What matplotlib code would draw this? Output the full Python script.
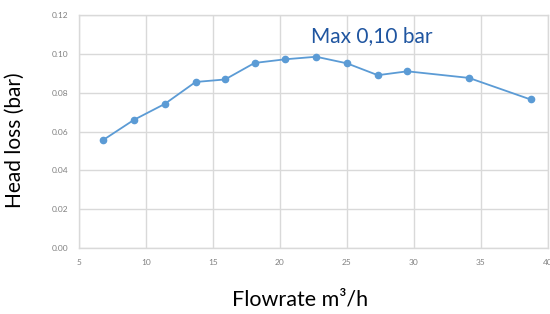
import matplotlib
matplotlib.use("Agg")
import matplotlib.pyplot as plt
from matplotlib.ticker import FormatStrFormatter, MultipleLocator

flowrate = [6.8, 9.1, 11.4, 13.7, 15.9, 18.1, 20.4, 22.7, 25.0, 27.3, 29.5, 34.1, 38.7]
head_loss = [0.0556, 0.0660, 0.0742, 0.0855, 0.0868, 0.0953, 0.0972, 0.0985, 0.0951, 0.0890, 0.0910, 0.0876, 0.0765]

x_label = "Flowrate m³/h"
y_label = "Head loss (bar)"
annotation = "Max 0,10 bar"

plt.rcParams['font.family'] = ['Lato', 'DejaVu Sans']

fig = plt.figure(figsize=(5.5, 3.14), dpi=100)
ax = fig.add_axes([79/550, 1-248/314, 469/550, 233/314])

ax.plot(flowrate, head_loss, color='#5B9BD5', lw=1.3, marker='o', ms=4.5, zorder=3)

ax.set_xlim(5, 40)
ax.set_ylim(0, 0.12)
ax.xaxis.set_major_locator(MultipleLocator(5))
ax.yaxis.set_major_locator(MultipleLocator(0.02))
ax.yaxis.set_major_formatter(FormatStrFormatter('%.2f'))
ax.grid(True, color='#D9D9D9', lw=1)
ax.set_axisbelow(True)
for s in ax.spines.values():
    s.set_color('#D9D9D9')
    s.set_linewidth(1)
ax.tick_params(length=0, labelsize=6, labelcolor='#808080', pad=8)

ax.text(22.35, 0.1063, annotation, color='#1F55A0', fontsize=15, ha='left', va='baseline')

fig.text(15/550, 1-140/314, y_label, rotation=90, ha='center', va='center', fontsize=15, color='#000000')
fig.text(300/550, 1-300/314, x_label, ha='center', va='center', fontsize=15.5, color='#000000')

fig.savefig('out.png', dpi=100)
